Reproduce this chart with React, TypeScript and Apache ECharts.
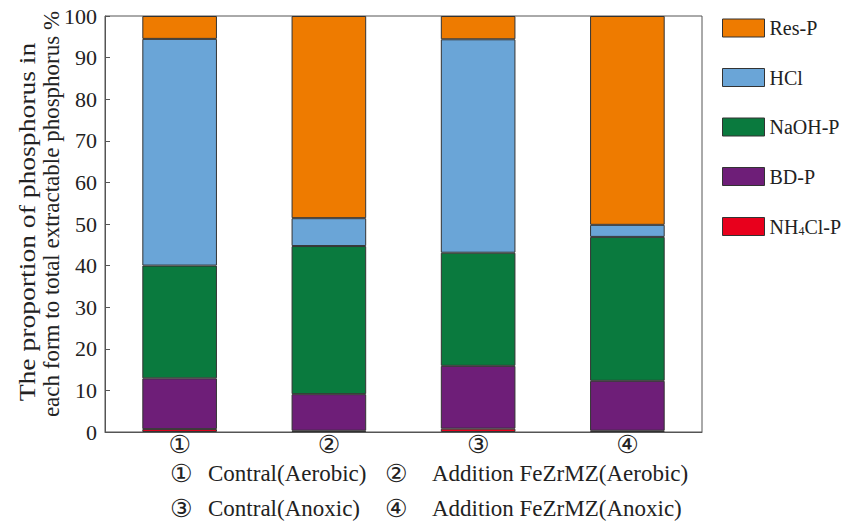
import React, { useEffect, useRef } from "react";
import * as echarts from "echarts";

const categories = ["①", "②", "③", "④"];
const nh4clP = [0.7, 0.3, 0.8, 0.3];
const bdP = [12.2, 8.8, 15.1, 12.0];
const naohP = [27.1, 35.6, 27.2, 34.6];
const hclP = [54.5, 6.7, 51.3, 2.9];
const resP = [5.5, 48.6, 5.6, 50.2];
const yTicks = [0, 10, 20, 30, 40, 50, 60, 70, 80, 90, 100];
const yTitle = ["The proportion of phosphorus in", "each form to total extractable phosphorus %"];
const noteRows = [
  ["①", "Contral(Aerobic)", "②", "Addition FeZrMZ(Aerobic)"],
  ["③", "Contral(Anoxic)", "④", "Addition FeZrMZ(Anoxic)"],
];

const FONT = "'Liberation Serif', 'Times New Roman', serif";
const CIRC = "'DejaVu Sans', sans-serif";

export default function App() {
  const ref = useRef<HTMLDivElement>(null);
  useEffect(() => {
    if (!ref.current) return;
    const chart = echarts.init(ref.current, null, { renderer: "svg" });
    const seriesDefs = [
      { name: "NH4Cl-P", data: nh4clP, color: "#E8001C" },
      { name: "BD-P", data: bdP, color: "#6E1E78" },
      { name: "NaOH-P", data: naohP, color: "#0A7A3E" },
      { name: "HCl", data: hclP, color: "#6AA5D7" },
      { name: "Res-P", data: resP, color: "#EE7B00" },
    ];
    const graphics: any[] = [];
    noteRows.forEach((row, i) => {
      const y = 473 + i * 35;
      graphics.push(
        { type: "text", x: 170, y, style: { text: row[0], font: `25px ${CIRC}`, lineHeight: 24, fill: "#222", verticalAlign: "middle" } },
        { type: "text", x: 208, y, style: { text: row[1], font: `23px ${FONT}`, lineHeight: 24, fill: "#222", verticalAlign: "middle" } },
        { type: "text", x: 385, y, style: { text: row[2], font: `25px ${CIRC}`, lineHeight: 24, fill: "#222", verticalAlign: "middle" } },
        { type: "text", x: 432, y, style: { text: row[3], font: `23px ${FONT}`, lineHeight: 24, fill: "#222", verticalAlign: "middle" } }
      );
    });
    graphics.push(
      {
        type: "text",
        x: 27,
        y: 222,
        rotation: Math.PI / 2,
        scaleX: 1.2,
        style: { text: yTitle[0], font: `23px ${FONT}`, fill: "#222", align: "center", verticalAlign: "middle" },
      },
      {
        type: "text",
        x: 51,
        y: 214,
        rotation: Math.PI / 2,
        style: { text: yTitle[1], font: `23px ${FONT}`, fill: "#222", align: "center", verticalAlign: "middle" },
      }
    );
    chart.setOption({
      animation: false,
      backgroundColor: "#fff",
      grid: {
        left: 105,
        top: 16,
        right: 141,
        bottom: 91,
        show: true,
        borderColor: "#555",
        borderWidth: 1,
        containLabel: false,
      },
      legend: {
        orient: "vertical",
        left: 717,
        top: 13,
        itemWidth: 42,
        itemHeight: 18,
        itemGap: 29.5,
        icon: "rect",
        data: ["Res-P", "HCl", "NaOH-P", "BD-P", "NH4Cl-P"],
        itemStyle: { borderColor: "#333", borderWidth: 1 },
        textStyle: {
          fontFamily: FONT,
          fontSize: 20,
          color: "#222",
          lineHeight: 18,
          rich: {
            sub: { fontFamily: FONT, fontSize: 12, color: "#222", lineHeight: 18, padding: [9, 0, 0, 0] },
          },
        },
        formatter: (name: string) => (name === "NH4Cl-P" ? "NH{sub|4}Cl-P" : name),
      },
      xAxis: {
        type: "category",
        data: categories,
        axisLine: { lineStyle: { color: "#555", width: 1 } },
        axisTick: { show: false },
        axisLabel: { fontFamily: CIRC, fontSize: 25, lineHeight: 24, color: "#222", margin: 0 },
      },
      yAxis: {
        type: "value",
        min: 0,
        max: 100,
        interval: 10,
        axisLine: { show: true, lineStyle: { color: "#555", width: 1 } },
        axisTick: { show: true, inside: true, length: 5, lineStyle: { color: "#555" } },
        splitLine: { show: false },
        axisLabel: {
          fontFamily: FONT,
          fontSize: 22,
          color: "#222",
          margin: 8,
          formatter: (v: number) => (yTicks.includes(v) ? String(v) : ""),
        },
      },
      series: seriesDefs.map((s) => ({
        name: s.name,
        type: "bar",
        stack: "total",
        barWidth: "50%",
        data: s.data,
        itemStyle: { color: s.color, borderColor: "#333", borderWidth: 1 },
      })),
      graphic: graphics,
    });
    return () => chart.dispose();
  }, []);
  return (
    <div
      ref={ref}
      style={{ position: "fixed", left: 0, top: 0, width: 843, height: 523 }}
    />
  );
}
